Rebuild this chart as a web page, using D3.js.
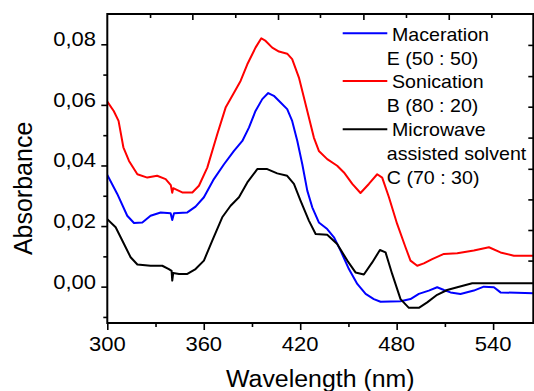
<!DOCTYPE html>
<html><head><meta charset="utf-8">
<script src="https://cdn.jsdelivr.net/npm/d3@7"></script>
<style>body{margin:0;background:#fff} svg{display:block}</style>
</head><body><svg id="c" width="534" height="391"></svg>
<script>
// ---- data ----
const macerationWl = [300,306.2,312.4,316.6,321.8,326.9,333.2,339.4,340.4,341.5,349.8,354.9,360.1,366.3,372.6,378.8,384,388.1,392.2,396.4,400.1,403.6,407.8,411.9,415,418.2,421.3,424.4,427.5,431.6,436.8,441,445.1,450.3,455.5,460.7,465.8,470,482.4,488.6,493.8,500,505.2,509.4,513.5,519.7,528,534.2,540.5,544.6,565];
const macerationAbs = [0.0369,0.0306,0.0234,0.021,0.0212,0.0234,0.0245,0.0242,0.022,0.0242,0.0245,0.0264,0.0295,0.0355,0.0404,0.0448,0.0481,0.0525,0.058,0.0619,0.0639,0.063,0.0608,0.0586,0.0547,0.0481,0.0404,0.0317,0.0262,0.0212,0.019,0.0163,0.0119,0.0058,0.0009,-0.0024,-0.0041,-0.005,-0.0048,-0.0041,-0.0024,-0.0013,-0.0002,-0.0011,-0.0019,-0.0024,-0.0013,0,-0.0002,-0.0019,-0.0022];

const sonicationWl = [300,304,307,310,313.5,318.7,324.9,331,336.3,339.5,340.4,341,346.6,352.9,357,362.2,368.4,373.6,378.8,382.9,387.1,392.2,395.8,398.5,402.6,406.8,411.9,415,419.2,424.4,428.5,431.6,436.8,443,447.2,452.4,457.5,462.7,467.9,471,475.2,480.3,485.5,488.6,492.8,496.9,502.1,509.4,517.7,528,537.4,544.6,552.9,565];
const sonicationAbs = [0.0611,0.058,0.0547,0.046,0.0415,0.0371,0.036,0.0366,0.0355,0.0335,0.031,0.0325,0.0311,0.0311,0.0333,0.0393,0.0503,0.0591,0.064,0.0679,0.0734,0.0789,0.082,0.0811,0.0789,0.0776,0.0769,0.0751,0.069,0.058,0.0492,0.0448,0.0421,0.0399,0.0377,0.0339,0.0309,0.0339,0.0371,0.036,0.0295,0.0207,0.013,0.0086,0.0069,0.0077,0.0091,0.0108,0.011,0.0119,0.013,0.0113,0.0102,0.0102];

const microwaveWl = [300,305.2,310.4,314.5,318.7,326.9,334.2,338.3,340,340.4,341,344.6,349.8,354.9,360.1,365.3,371.5,376.7,381.9,387.1,393.3,399.5,405.7,411.9,416.1,420.2,425.4,429.6,436.8,443,449.3,454.4,459.6,464.8,469.6,473.1,477.2,482.4,487.6,493.8,499,505.2,511.4,517.7,527,565];
const microwaveAbs = [0.0223,0.0196,0.0141,0.0097,0.0073,0.0069,0.0069,0.0058,0.0052,0.002,0.0045,0.0042,0.0042,0.0058,0.0086,0.0152,0.0229,0.0267,0.0295,0.0344,0.0388,0.0388,0.0374,0.0366,0.0339,0.0284,0.0218,0.0174,0.0171,0.0141,0.0086,0.0047,0.004,0.008,0.0121,0.0113,0.0042,-0.0041,-0.007,-0.007,-0.0052,-0.0027,-0.0011,-0.0002,0.0011,0.0011];

const legendLabels = [["Maceration","E (50 : 50)"],["Sonication","B (80 : 20)"],["Microwave","assisted solvent","C (70 : 30)"]];
const seriesColors = ["#0000ff","#ff0000","#000000"];

const xMajorTicks = [300,360,420,480,540];
const xMinorTicks = [330,390,450,510];
const yMajorTicks = [0,0.02,0.04,0.06,0.08];
const yMinorTicks = [-0.01,0.01,0.03,0.05,0.07];
const topMajorTicks = [352.9,406.2,459.3,512.4];
const topMinorTicks = [326.6,379.6,432.3,485.8,538.9];
const rightTicks = [0.0798,0.0695,0.0594,0.0492,0.0389,0.0288,0.0187,0.0086];

const xTitle = "Wavelength (nm)";
const yTitle = "Absorbance";

// ---- drawing ----
const FONT = "'Liberation Sans', Arial, sans-serif";
const svg = d3.select("#c");
const x = d3.scaleLinear().domain([300,565]).range([107.3,533.3]);
const y = d3.scaleLinear().domain([-0.012,0.09]).range([323,14]);
const fmt = d3.formatLocale({decimal:",",thousands:".",grouping:[3],currency:["",""]}).format(".2f");

svg.append("clipPath").attr("id","clip").append("rect")
  .attr("x",x.range()[0]).attr("y",y.range()[1])
  .attr("width",x.range()[1]-x.range()[0]).attr("height",y.range()[0]-y.range()[1]);

const series = [
  {wl:macerationWl, a:macerationAbs},
  {wl:sonicationWl, a:sonicationAbs},
  {wl:microwaveWl, a:microwaveAbs}
];
const line = d3.line().x(d=>x(d[0])).y(d=>y(d[1]));
series.forEach((s,i)=>{
  const pts = s.wl.map((w,j)=>[w,s.a[j]]);
  svg.append("path").attr("d",line(pts)).attr("fill","none")
    .attr("stroke",seriesColors[i]).attr("stroke-width",2)
    .attr("stroke-linejoin","round").attr("clip-path","url(#clip)");
});

// axes via d3 axis generators (tick marks only)
const gB = svg.append("g").attr("transform",`translate(0,${y.range()[0]})`)
  .call(d3.axisBottom(x).tickValues(xMajorTicks).tickSize(7).tickFormat(""));
const gBm = svg.append("g").attr("transform",`translate(0,${y.range()[0]})`)
  .call(d3.axisBottom(x).tickValues(xMinorTicks).tickSize(4).tickFormat(""));
const gL = svg.append("g").attr("transform",`translate(${x.range()[0]},0)`)
  .call(d3.axisLeft(y).tickValues(yMajorTicks).tickSize(6).tickFormat(""));
const gLm = svg.append("g").attr("transform",`translate(${x.range()[0]},0)`)
  .call(d3.axisLeft(y).tickValues(yMinorTicks).tickSize(4).tickFormat(""));
const gT = svg.append("g").attr("transform",`translate(0,${y.range()[1]})`)
  .call(d3.axisBottom(x).tickValues(topMajorTicks).tickSize(6).tickFormat(""));
const gTm = svg.append("g").attr("transform",`translate(0,${y.range()[1]})`)
  .call(d3.axisBottom(x).tickValues(topMinorTicks).tickSize(4).tickFormat(""));
const gR = svg.append("g").attr("transform",`translate(${x.range()[1]},0)`)
  .call(d3.axisLeft(y).tickValues(rightTicks).tickSize(5).tickFormat(""));
[gB,gBm,gL,gLm,gT,gTm,gR].forEach(g=>{
  g.select(".domain").remove();
  g.selectAll("line").attr("stroke","#000").attr("stroke-width",1.6);
});

// frame
svg.append("rect").attr("x",x.range()[0]).attr("y",y.range()[1])
  .attr("width",x.range()[1]-x.range()[0]).attr("height",y.range()[0]-y.range()[1])
  .attr("fill","none").attr("stroke","#000").attr("stroke-width",2);

// tick labels
xMajorTicks.forEach(v=>{
  svg.append("text").attr("transform",`translate(${x(v)},351) scale(1.1,1)`)
    .attr("text-anchor","middle").attr("font-family",FONT).attr("font-size",20)
    .attr("fill","#000").text(v);
});
yMajorTicks.forEach(v=>{
  svg.append("text").attr("transform",`translate(96,${y(v)+2}) scale(1.1,1)`)
    .attr("text-anchor","end").attr("font-family",FONT).attr("font-size",20)
    .attr("fill","#000").text(fmt(v));
});

// titles
svg.append("text").attr("transform",`translate(${(x.range()[0]+x.range()[1])/2},386.7) scale(1.06,1)`)
  .attr("text-anchor","middle").attr("font-family",FONT).attr("font-size",23.5)
  .attr("fill","#000").text(xTitle);
svg.append("text").attr("transform","translate(31.7,188.4) rotate(-90)")
  .attr("text-anchor","middle").attr("font-family",FONT).attr("font-size",25)
  .attr("fill","#000").text(yTitle);

// legend
const legTop = [33.3,81,129.3];
const legFirstBase = [40.5,88.3,136];
legendLabels.forEach((labs,i)=>{
  svg.append("line").attr("x1",342.7).attr("x2",387.3)
    .attr("y1",legTop[i]).attr("y2",legTop[i])
    .attr("stroke",seriesColors[i]).attr("stroke-width",2);
  labs.forEach((t,k)=>{
    const tx = k===0 ? 392 : 386.8;
    svg.append("text").attr("transform",`translate(${tx},${legFirstBase[i]+k*24}) scale(1.09,1)`)
      .attr("font-family",FONT).attr("font-size",18).attr("fill","#000").text(t);
  });
});
</script></body></html>
